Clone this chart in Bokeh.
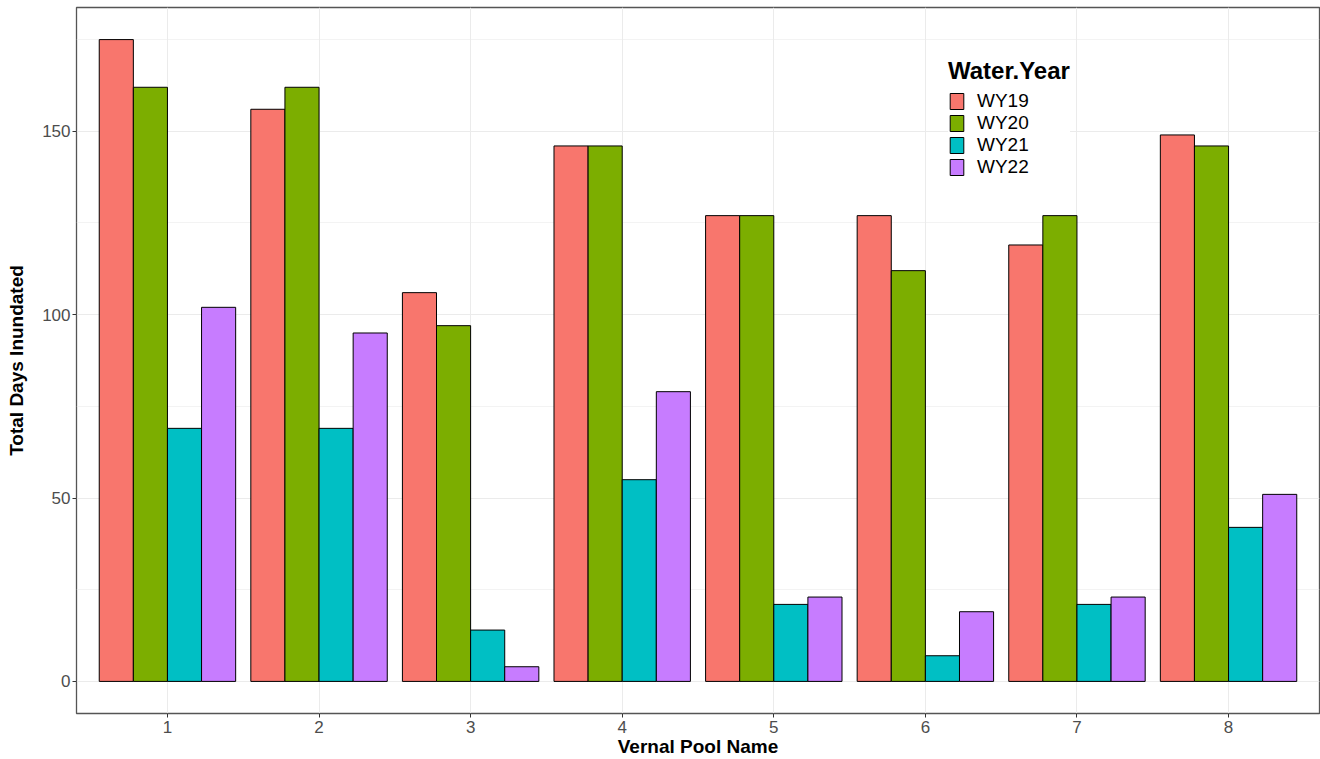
from bokeh.plotting import figure
from bokeh.models import ColumnDataSource, Range1d, FixedTicker, Legend, LegendItem
from bokeh.transform import dodge
from bokeh.embed import file_html
from bokeh.resources import INLINE

pools = [1, 2, 3, 4, 5, 6, 7, 8]
wy19 = [175, 156, 106, 146, 127, 127, 119, 149]
wy20 = [162, 162, 97, 146, 127, 112, 127, 146]
wy21 = [69, 69, 14, 55, 21, 7, 21, 42]
wy22 = [102, 95, 4, 79, 23, 19, 23, 51]
series = ["WY19", "WY20", "WY21", "WY22"]
colors = ["#F8766D", "#7CAE00", "#00BFC4", "#C77CFF"]
y_ticks = [0, 50, 100, 150]
y_minor = [25, 75, 125, 175]

src = ColumnDataSource(dict(pool=pools, WY19=wy19, WY20=wy20, WY21=wy21, WY22=wy22))

p = figure(width=1320, height=759, output_backend="svg", toolbar_location=None,
           x_range=Range1d(0.4, 8.6), y_range=Range1d(-8.75, 183.75),
           min_border_left=76, min_border_right=1, min_border_top=7, min_border_bottom=46)

bw = 0.225
offsets = [-1.5 * bw, -0.5 * bw, 0.5 * bw, 1.5 * bw]
items = []
for s, c, off in zip(series, colors, offsets):
    r = p.vbar(x=dodge("pool", off), top=s, bottom=0, width=bw, source=src,
               fill_color=c, line_color="black", line_width=1)
    items.append(LegendItem(label=s, renderers=[r]))

legend = Legend(items=items, title="Water.Year", location=(872, 535),
                title_text_font="Liberation Sans", title_text_font_style="bold",
                title_text_font_size="24px", title_text_color="black", title_standoff=5,
                label_text_font="Liberation Sans", label_text_font_size="19px",
                label_text_color="black", label_standoff=12, label_height=17,
                glyph_width=17, glyph_height=20, spacing=0, padding=8, margin=0,
                border_line_color=None, background_fill_color="white", background_fill_alpha=1)
p.add_layout(legend)

p.xaxis.ticker = FixedTicker(ticks=pools)
p.yaxis.ticker = FixedTicker(ticks=y_ticks, minor_ticks=y_minor)
p.xaxis.axis_label = "Vernal Pool Name"
p.yaxis.axis_label = "Total Days Inundated"
for ax in (p.xaxis, p.yaxis):
    ax.axis_line_color = None
    ax.major_tick_line_color = "#333333"
    ax.major_tick_out = 4
    ax.major_tick_in = 0
    ax.minor_tick_line_color = None
    ax.major_label_text_font = "Liberation Sans"
    ax.major_label_text_font_size = "17px"
    ax.major_label_text_color = "#4D4D4D"
    ax.axis_label_text_font = "Liberation Sans"
    ax.axis_label_text_font_size = "19px"
    ax.axis_label_text_font_style = "bold"
    ax.axis_label_text_color = "black"
p.xaxis.major_label_standoff = 3
p.xaxis.axis_label_standoff = 0
p.yaxis.major_label_standoff = 2
p.yaxis.axis_label_standoff = 12

p.xgrid.grid_line_color = "#EBEBEB"
p.xgrid.grid_line_width = 1
p.ygrid.grid_line_color = "#EBEBEB"
p.ygrid.grid_line_width = 1
p.ygrid.minor_grid_line_color = "#EBEBEB"
p.ygrid.minor_grid_line_width = 0.6

p.outline_line_color = "#555555"
p.outline_line_width = 1.3
p.background_fill_color = "white"
p.border_fill_color = "white"

open("out.html", "w").write(file_html(p, INLINE))
